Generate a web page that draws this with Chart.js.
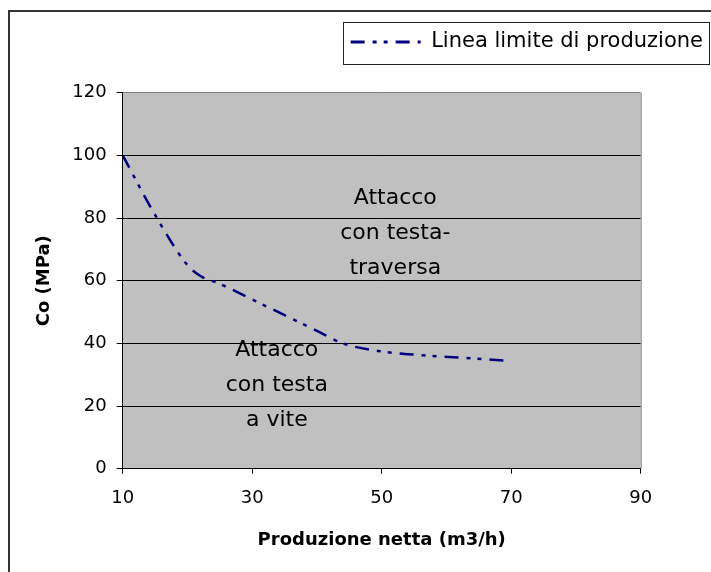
<!DOCTYPE html>
<html>
<head>
<meta charset="utf-8">
<script src="https://cdn.jsdelivr.net/npm/chart.js@4"></script>
<style>
    body { margin: 0; background: #fff; }
    #wrap { width: 711px; height: 572px; position: relative; }
</style>
</head>
<body>
<div id="wrap"><canvas id="line-chart"></canvas></div>
<script>
'use strict';

// values
const flowValues = [10, 15, 20, 22, 25, 30, 35, 40, 44, 50, 55, 61, 69];
const coValues = [100, 81, 65, 61.5, 59, 54, 49, 44, 40, 37.4, 36.4, 35.6, 34.5];
const seriesName = 'Linea limite di produzione';

const noteLines = [['Attacco', 'con testa-', 'traversa'], ['Attacco', 'con testa', 'a vite']];
const noteFlow = [52.1, 33.8];
const noteCo = [75.2, 26.6];

const xTitle = 'Produzione netta (m3/h)';
const yTitle = 'Co (MPa)';

const FONT = 'DejaVu Sans';
const LINE_DASH = [14, 8, 4, 7, 4, 8];

// frame, plot background, legend box and the two labels in the plot
const decorPlugin = {
    id: 'decor',
    beforeDraw(chart) {
        const ctx = chart.ctx;
        const a = chart.chartArea;
        ctx.save();
        ctx.fillStyle = '#fff';
        ctx.fillRect(0, 0, chart.width, chart.height);
        ctx.strokeStyle = '#333';
        ctx.lineWidth = 2;
        ctx.strokeRect(9, 11, chart.width + 20, chart.height + 20);
        ctx.fillStyle = '#c0c0c0';
        ctx.fillRect(a.left, a.top, a.right - a.left, a.bottom - a.top);
        ctx.restore();
    },
    afterDatasetsDraw(chart) {
        const ctx = chart.ctx;
        const a = chart.chartArea;
        const xs = chart.scales.x, ys = chart.scales.y;
        ctx.save();
        ctx.strokeStyle = '#808080';
        ctx.lineWidth = 1;
        ctx.beginPath();
        ctx.moveTo(a.right + 0.5, a.top);
        ctx.lineTo(a.right + 0.5, a.bottom);
        ctx.stroke();

        ctx.fillStyle = '#000';
        ctx.font = '22px "' + FONT + '"';
        ctx.textAlign = 'center';
        ctx.textBaseline = 'middle';
        const lh = 35;
        noteLines.forEach((lines, i) => {
            const cx = xs.getPixelForValue(noteFlow[i]);
            const cy = ys.getPixelForValue(noteCo[i]);
            lines.forEach((t, j) => {
                ctx.fillText(t, cx, cy + (j - (lines.length - 1) / 2) * lh);
            });
        });

        // box round the legend
        const hb = chart.legend.legendHitBoxes[0];
        if (hb) {
            ctx.strokeStyle = '#222';
            ctx.lineWidth = 1;
            ctx.strokeRect(Math.round(hb.left - 8) + 0.5, Math.round(hb.top - 10) + 0.5,
                chart.width - 2 - Math.round(hb.left - 8), 42);
        }
        ctx.restore();
    }
};

let ctx = document.getElementById('line-chart').getContext('2d');

let data = {
    datasets: [{
        label: seriesName,
        data: flowValues.map((v, i) => ({x: v, y: coValues[i]})),
        borderColor: '#000080',
        backgroundColor: '#000080',
        borderWidth: 2.5,
        borderDash: LINE_DASH,
        pointRadius: 0,
        pointStyle: 'line',
        cubicInterpolationMode: 'monotone',
        fill: false
    }]
};

let lineChart = new Chart(ctx, {
    type: 'line',
    data: data,
    plugins: [decorPlugin],
    options: {
        responsive: true,
        maintainAspectRatio: false,
        animation: false,
        layout: { padding: { top: 23.5, left: 0, right: 0, bottom: 0 } },
        plugins: {
            tooltip: { enabled: false },
            legend: {
                position: 'top',
                align: 'end',
                labels: {
                    usePointStyle: true,
                    pointStyle: 'line',
                    pointStyleWidth: 70,
                    padding: 8,
                    color: '#000',
                    font: { family: FONT, size: 21 },
                    // point style items lose the dash, put it back
                    generateLabels(chart) {
                        const items = Chart.defaults.plugins.legend.labels.generateLabels(chart);
                        items.forEach(it => {
                            const ds = chart.data.datasets[it.datasetIndex];
                            it.lineDash = ds.borderDash;
                            it.lineWidth = 3;
                            it.strokeStyle = ds.borderColor;
                        });
                        return items;
                    }
                }
            }
        },
        scales: {
            x: {
                type: 'linear',
                position: 'bottom',
                min: 10,
                max: 90,
                ticks: { stepSize: 20, padding: 14, color: '#000', font: { family: FONT, size: 18 } },
                grid: { drawOnChartArea: false, drawTicks: true, tickLength: 5, tickColor: '#000' },
                border: { color: '#000', width: 1 },
                title: {
                    display: true,
                    text: xTitle,
                    color: '#000',
                    font: { family: FONT, size: 18, weight: 'bold' },
                    padding: { top: 0, bottom: 21 }
                },
                afterFit(s) { s.height = 103.3; }
            },
            y: {
                type: 'linear',
                position: 'left',
                min: 0,
                max: 120,
                ticks: { stepSize: 20, padding: 10, color: '#000', font: { family: FONT, size: 18 } },
                grid: {
                    color: c => (c.tick && c.tick.value === 120) ? '#808080' : '#000',
                    lineWidth: 1,
                    drawTicks: true,
                    tickLength: 6,
                    tickColor: '#000'
                },
                border: { color: '#000', width: 1 },
                title: {
                    display: true,
                    text: yTitle,
                    color: '#000',
                    font: { family: FONT, size: 18, weight: 'bold' },
                    padding: { top: 34, bottom: 0 }
                },
                afterFit(s) { s.width = 122.7; }
            },
            // empty axes that only keep room, as in the picture
            yr: {
                type: 'linear',
                position: 'right',
                display: true,
                grid: { display: false },
                ticks: { display: false },
                border: { display: false },
                afterFit(s) { s.width = 70.3; }
            },
            xt: {
                type: 'linear',
                position: 'top',
                display: true,
                grid: { display: false },
                ticks: { display: false },
                border: { display: false },
                afterFit(s) { s.height = 30.2; }
            }
        }
    }
});
</script>
</body>
</html>
